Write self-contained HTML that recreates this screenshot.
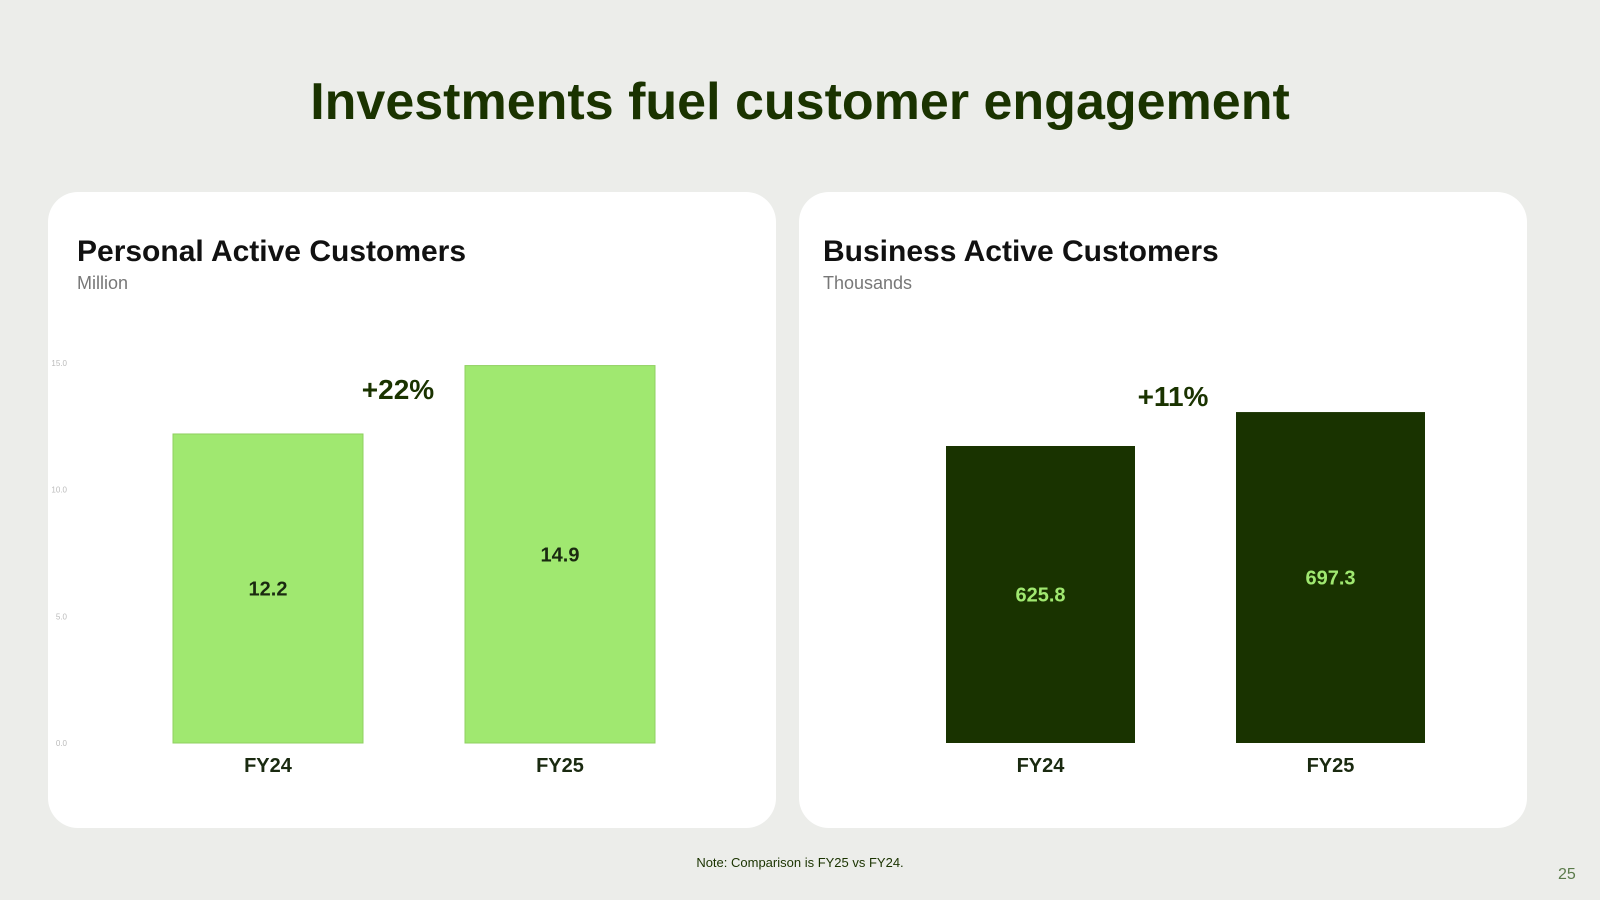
<!DOCTYPE html>
<html><head><meta charset="utf-8"><style>
body{margin:0;width:1600px;height:900px;background:#ecedea;font-family:"Liberation Sans",sans-serif;position:relative;overflow:hidden}
.t{position:absolute;white-space:nowrap}
.card{position:absolute;top:192px;width:728px;height:636px;background:#fff;border-radius:30px}
</style></head><body>
<div class="t" style="left:0;width:1600px;text-align:center;top:72px;font-size:52px;font-weight:bold;color:#1a3300">Investments fuel customer engagement</div>
<div class="card" style="left:48px"></div>
<div class="card" style="left:799px"></div>
<div class="t" style="left:77px;top:235px;font-size:30px;font-weight:bold;color:#111">Personal Active Customers</div>
<div class="t" style="left:77px;top:273px;font-size:18px;color:#777">Million</div>
<div class="t" style="left:823px;top:235px;font-size:30px;font-weight:bold;color:#111">Business Active Customers</div>
<div class="t" style="left:823px;top:273px;font-size:18px;color:#777">Thousands</div>
<svg width="1600" height="900" style="position:absolute;left:0;top:0" id="svg"></svg>
<div class="t" style="left:0;width:1600px;text-align:center;top:855px;font-size:13px;color:#1a3300">Note: Comparison is FY25 vs FY24.</div>
<div class="t" style="left:1558px;top:866px;font-size:16px;color:#5a7a4a">25</div>
<script>
const categories=["FY24","FY25"];
const personalValues=[12.2,14.9];
const businessValues=[625.8,697.3];
const personalTicks=[0,5,10,15];
const personalGrowth="+22%";
const businessGrowth="+11%";
const NS="http://www.w3.org/2000/svg";
const svg=document.getElementById('svg');
function el(t,a,txt){const e=document.createElementNS(NS,t);for(const k in a)e.setAttribute(k,a[k]);if(txt!==undefined)e.textContent=txt;svg.appendChild(e);return e;}
const base=743;
function draw(vals,scale,x0,step,w,fill,lblColor,prefix){
  vals.forEach((v,i)=>{
    const x=x0+i*step,h=v*scale;
    const r=el('rect',{x:x,y:base-h,width:w,height:h,fill:fill,stroke:fill==='#a0e870'?'#8fd060':'none','stroke-width':1});
    
    
    const t=el('text',{x:x+w/2,y:base-h/2+7,'text-anchor':'middle','font-size':20,'font-weight':'bold',fill:lblColor},String(v));
    
    
    const c=el('text',{x:x+w/2,y:772,'text-anchor':'middle','font-size':20,'font-weight':'bold',fill:'#1a2a10'},categories[i]);
    
    
  });
}
const pScale=25.33;
personalTicks.forEach(t=>{
  const e=el('text',{x:67,y:base-t*pScale+3,'text-anchor':'end','font-size':8,fill:'#bbb'},t.toFixed(1));
  
  
});
draw(personalValues,pScale,173,292,190,'#a0e870','#1a2a10','personal');
draw(businessValues,0.4746,946,290,189,'#193300','#a0e870','business');
const g1=el('text',{x:398,y:399,'text-anchor':'middle','font-size':28,'font-weight':'bold',fill:'#1a3300'},personalGrowth);


const g2=el('text',{x:1173,y:406,'text-anchor':'middle','font-size':28,'font-weight':'bold',fill:'#1a3300'},businessGrowth);


</script>
</body></html>
